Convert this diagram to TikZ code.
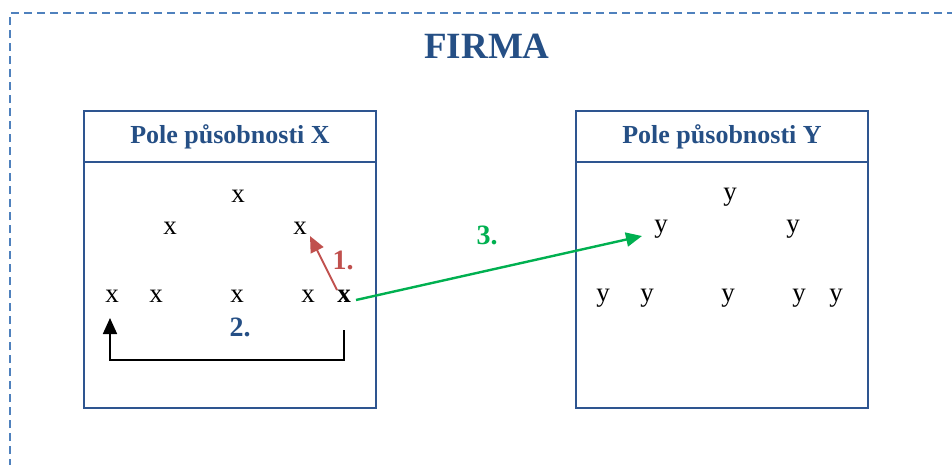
\documentclass[tikz,border=0pt]{standalone}
\usepackage{fontspec}
\setmainfont{Liberation Serif}
\usetikzlibrary{arrows.meta}
\definecolor{frameblue}{HTML}{4F81BD}
\definecolor{darkblue}{HTML}{254F85}
\definecolor{boxblue}{HTML}{2E5590}
\definecolor{redc}{HTML}{C0504D}
\definecolor{greenc}{HTML}{00B050}
\tikzset{
  field/.style={draw=boxblue, line width=1.8pt},
  head/.style={font=\fontsize{26}{28}\selectfont\bfseries, text=darkblue},
  letter/.style={font=\fontsize{27}{28}\selectfont, inner sep=0pt, anchor=base},
  num/.style={font=\fontsize{28}{30}\selectfont\bfseries, inner sep=0pt},
  tip/.style={-{Triangle[length=16pt,width=14pt]}},
}
\begin{document}
\begin{tikzpicture}[x=1pt,y=-1pt]
\useasboundingbox (0,0) rectangle (952,464);
\begin{scope}
\clip (0,0) rectangle (952,464);
\draw[frameblue, line width=2.4pt, dash pattern=on 8pt off 5pt] (10,480) -- (10,13) -- (970,13);
\end{scope}
\node[font=\fontsize{37}{40}\selectfont\bfseries, text=darkblue] (title) at (487,46) {FIRMA};
% left field
\draw[field] (84,111) rectangle (376,408);
\draw[field] (84,162) -- (376,162);
\node[head] (hx) at (230,137) {Pole působnosti X};
% right field
\draw[field] (576,111) rectangle (868,408);
\draw[field] (576,162) -- (868,162);
\node[head] (hy) at (722,137) {Pole působnosti Y};
% x letters
\node[letter] (x1) at (238,202) {x};
\node[letter] (x2) at (170,234) {x};
\node[letter] (x3) at (300,234) {x};
\node[letter] (x4) at (112,302) {x};
\node[letter] (x5) at (156,302) {x};
\node[letter] (x6) at (237,302) {x};
\node[letter] (x7) at (308,302) {x};
\node[letter,font=\fontsize{27}{28}\selectfont\bfseries] (x8) at (344,302) {x};
% y letters
\node[letter] (y1) at (730,200) {y};
\node[letter] (y2) at (661,232) {y};
\node[letter] (y3) at (793,232) {y};
\node[letter] (y4) at (603,301) {y};
\node[letter] (y5) at (647,301) {y};
\node[letter] (y6) at (728,301) {y};
\node[letter] (y7) at (799,301) {y};
\node[letter] (y8) at (836,301) {y};
% arrows
\coordinate (r1) at (337,290);
\coordinate (r2) at (310,236);
\draw[redc, line width=2pt, tip] (r1) -- (r2);
\node[num, text=redc] (n1) at (343,260) {1.};
\coordinate (b1) at (344,330);
\coordinate (b2) at (110,318);
\draw[black, line width=1.8pt, tip] (b1) -- (344,360) -- (110,360) -- (b2);
\node[num, text=darkblue] (n2) at (240,327) {2.};
\coordinate (g1) at (356,300);
\coordinate (g2) at (642,236);
\draw[greenc, line width=2.4pt, tip] (g1) -- (g2);
\node[num, text=greenc] (n3) at (487,235) {3.};
\end{tikzpicture}
\end{document}
